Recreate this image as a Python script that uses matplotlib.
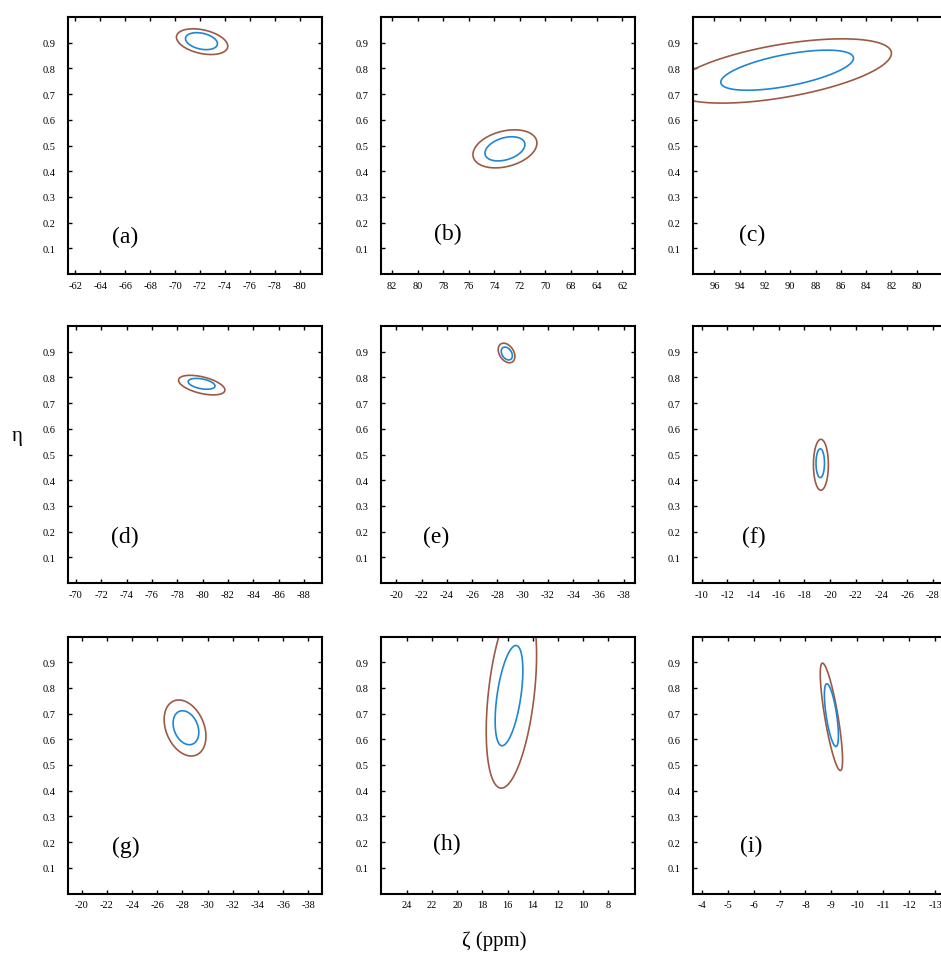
import numpy as np
import matplotlib
matplotlib.use('Agg')
from matplotlib import pyplot as plt

plt.rcParams['font.family'] = ['Liberation Serif', 'DejaVu Serif']
plt.rcParams['axes.unicode_minus'] = False

panel_labels = ['(a)', '(b)', '(c)', '(d)', '(e)', '(f)', '(g)', '(h)', '(i)']

# x limits (axes run from high to low)
xlims = [(-61.4, -81.8), (82.86, 63.0), (97.7, 77.6),
         (-69.37, -89.43), (-18.79, -38.9), (-9.32, -29.1),
         (-18.91, -39.09), (26.06, 5.88), (-3.66, -13.46)]

xtick_pos = [list(range(-62, -81, -2)), list(range(82, 63, -2)), list(range(96, 79, -2)),
             list(range(-70, -89, -2)), list(range(-20, -39, -2)), list(range(-10, -29, -2)),
             list(range(-20, -39, -2)), list(range(24, 7, -2)), list(range(-4, -14, -1))]
# panel (b) in the original skips "66"
xtick_labels = [None, ['82', '80', '78', '76', '74', '72', '70', '68', '64', '62'], None,
                None, None, None, None, None, None]

ytick_pos = [0.1, 0.2, 0.3, 0.4, 0.5, 0.6, 0.7, 0.8, 0.9]

# contour ellipses: centre x, centre y, half width, half height, correlation
outer_cx = [-72.17, 73.17, 90.65, -79.93, -28.73, -19.28, -28.21, 15.7, -9.0]
outer_cy = [0.904, 0.487, 0.79, 0.77, 0.895, 0.46, 0.644, 0.78, 0.6875]
outer_rx = [2.06, 2.5, 8.65, 1.83, 0.66, 0.58, 1.66, 2.0, 0.43]
outer_ry = [0.05, 0.074, 0.125, 0.038, 0.038, 0.099, 0.109, 0.37, 0.209]
outer_rho = [0.35, -0.3, -0.55, 0.5, 0.35, 0.0, 0.3, -0.4, 0.8]

inner_cx = [-72.12, 73.17, 90.25, -79.92, -28.75, -19.23, -28.28, 15.89, -9.0]
inner_cy = [0.906, 0.487, 0.793, 0.775, 0.893, 0.466, 0.645, 0.77, 0.694]
inner_rx = [1.28, 1.56, 5.25, 1.06, 0.44, 0.33, 1.02, 1.1, 0.27]
inner_ry = [0.033, 0.047, 0.078, 0.021, 0.025, 0.056, 0.066, 0.195, 0.122]
inner_rho = [0.3, -0.35, -0.6, 0.4, 0.35, 0.0, 0.27, -0.5, 0.65]

label_xy = [(0.225, 0.148), (0.264, 0.156), (0.231, 0.152),
            (0.225, 0.180), (0.217, 0.181), (0.240, 0.180),
            (0.226, 0.185), (0.260, 0.196), (0.231, 0.187)]

brown = '#9c5a44'
blue = '#1f86d4'

W, H = 941, 954
col_left = [68, 381, 693]
row_top = [18, 327, 637.5]
ax_w, ax_h = 254, 257


def draw_contour(ax, cx, cy, rx, ry, rho, color):
    xs = np.linspace(cx - 1.3 * rx, cx + 1.3 * rx, 160)
    ys = np.linspace(cy - 1.3 * ry, cy + 1.3 * ry, 160)
    X, Y = np.meshgrid(xs, ys)
    u = (X - cx) / rx
    v = (Y - cy) / ry
    Q = (u ** 2 - 2 * rho * u * v + v ** 2) / (1 - rho ** 2)
    ax.contour(X, Y, Q, levels=[1.0], colors=[color], linewidths=1.2)


fig = plt.figure(figsize=(W / 100, H / 100), dpi=100)

for k in range(9):
    r, c = k // 3, k % 3
    ax = fig.add_axes([col_left[c] / W, 1 - (row_top[r] + ax_h) / H, ax_w / W, ax_h / H])
    draw_contour(ax, outer_cx[k], outer_cy[k], outer_rx[k], outer_ry[k], outer_rho[k], brown)
    draw_contour(ax, inner_cx[k], inner_cy[k], inner_rx[k], inner_ry[k], inner_rho[k], blue)
    ax.set_xlim(*xlims[k])
    ax.set_ylim(0, 1)
    ax.set_xticks(xtick_pos[k])
    if xtick_labels[k] is not None:
        ax.set_xticklabels(xtick_labels[k])
    ax.set_yticks(ytick_pos)
    ax.set_yticklabels(['%.1f' % v for v in ytick_pos])
    ax.tick_params(direction='in', length=3, width=1, top=True, right=True, labelsize=7.5)
    ax.tick_params(axis='x', pad=5)
    ax.tick_params(axis='y', pad=9)
    for s in ax.spines.values():
        s.set_linewidth(1.5)
    ax.text(label_xy[k][0], label_xy[k][1], panel_labels[k], transform=ax.transAxes,
            fontsize=17, ha='center', va='center')

fig.text(17 / W, 1 - 437 / H, 'η', fontsize=15, ha='center', va='center')
fig.text(494 / W, 1 - 941 / H, 'ζ (ppm)', fontsize=15, ha='center', va='center')

plt.savefig('out.png', dpi=100)
plt.close()
